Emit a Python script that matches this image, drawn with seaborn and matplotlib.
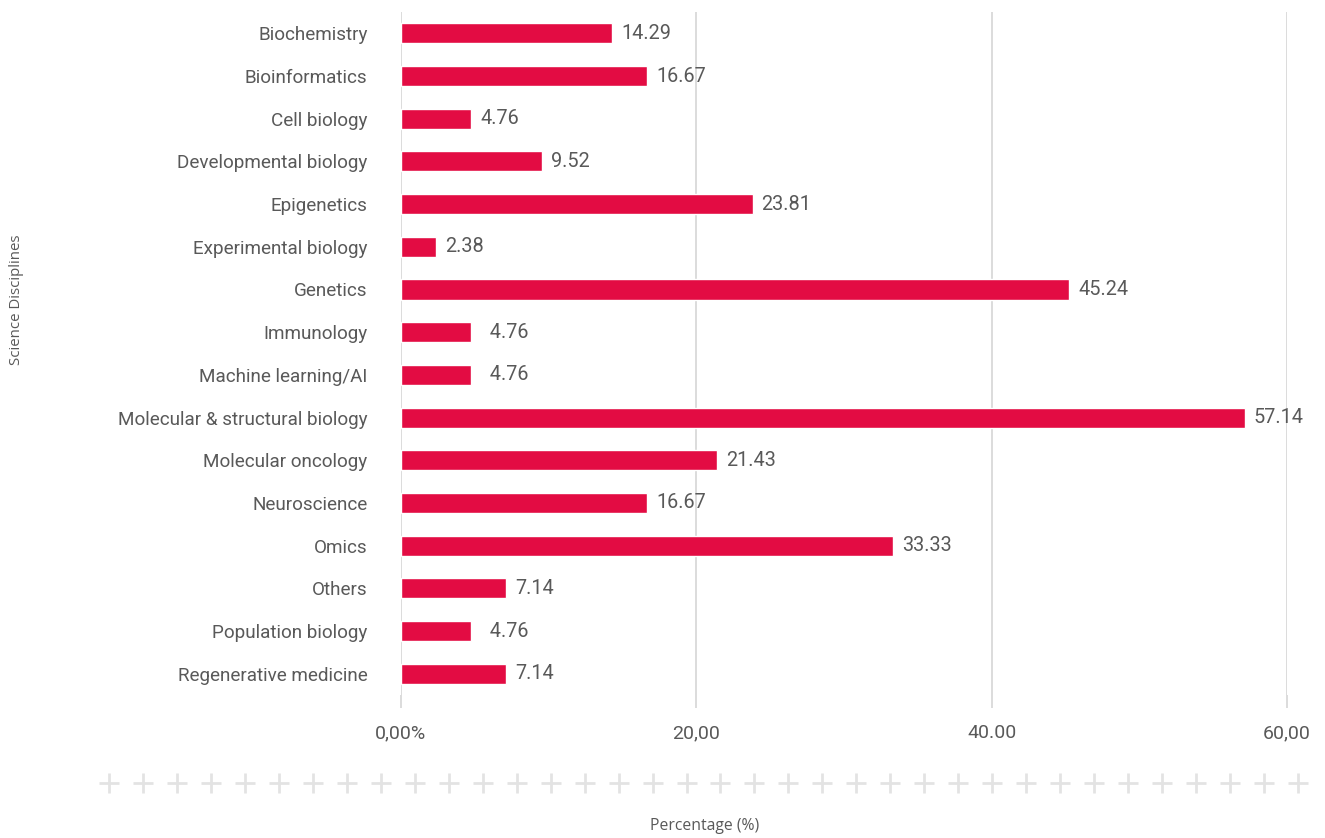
import matplotlib.pyplot as plt
import pandas as pd
import seaborn as sns

# Data
disciplines = ["Biochemistry", "Bioinformatics", "Cell biology", "Developmental biology",
               "Epigenetics", "Experimental biology", "Genetics", "Immunology",
               "Machine learning/AI", "Molecular & structural biology", "Molecular oncology",
               "Neuroscience", "Omics", "Others", "Population biology", "Regenerative medicine"]
percentages = [14.29, 16.67, 4.76, 9.52, 23.81, 2.38, 45.24, 4.76,
               4.76, 57.14, 21.43, 16.67, 33.33, 7.14, 4.76, 7.14]
value_labels = ["14.29", "16.67", "4.76", "9.52", "23.81", "2.38", "45.24", "  4.76",
                "  4.76", "57.14", "21.43", "16.67", "33.33", "7.14", "  4.76", "7.14"]
x_ticks = [0, 20, 40, 60]
x_tick_labels = ["0,00%", "20,00", "40.00", "60,00"]

df = pd.DataFrame({"Discipline": disciplines, "Percentage": percentages})

sns.set_style("white")
plt.rcParams["font.family"] = ["Roboto", "DejaVu Sans"]

text_col = "#595959"
bar_col = "#E30C43"
grid_col = "#D9D9D9"

fig = plt.figure(figsize=(13.25, 8.38), dpi=100)
ax = fig.add_axes([0.3026, 0.1706, 0.9713 - 0.3026, 0.9857 - 0.1706])

sns.barplot(data=df, x="Percentage", y="Discipline", order=disciplines,
            color=bar_col, saturation=1, width=0.47, ax=ax)

ax.bar_label(ax.containers[0], labels=value_labels, padding=6.5,
             fontsize=14.3, color=text_col)

# Decorations
ax.set_xlim(0, 60)
ax.set_ylim(len(disciplines) - 0.5, -0.5)
ax.set_xticks(x_ticks)
ax.set_xticklabels(x_tick_labels)
ax.xaxis.grid(True, color=grid_col, linewidth=1.3)
ax.set_axisbelow(True)
ax.tick_params(axis="x", length=9, width=1.3, color=grid_col, pad=12,
               labelsize=14, labelcolor=text_col, bottom=True)
ax.tick_params(axis="y", length=0, pad=24, labelsize=13.6, labelcolor=text_col)
for s in ax.spines.values():
    s.set_visible(False)
ax.set_xlabel("")
ax.set_ylabel("")

fig.text(17 / 1325, 1 - 300 / 838, "Science Disciplines", rotation=90,
         ha="center", va="center", fontsize=10.8, color=text_col, family=["Open Sans", "DejaVu Sans"])
fig.text(705 / 1325, 1 - 826 / 838, "Percentage (%)", ha="center", va="center",
         fontsize=11.3, color=text_col, family=["Open Sans", "DejaVu Sans"])

# row of decorative plus signs
n_plus = 36
xs = [(109 + i * (1298 - 109) / (n_plus - 1)) / 1325 for i in range(n_plus)]
fig.add_artist(plt.Line2D(xs, [1 - 783 / 838] * n_plus, transform=fig.transFigure,
                          linestyle="none", marker="+", markersize=14,
                          markeredgewidth=2, color="#E3E3E3"))

fig.savefig("out.png", dpi=100)
